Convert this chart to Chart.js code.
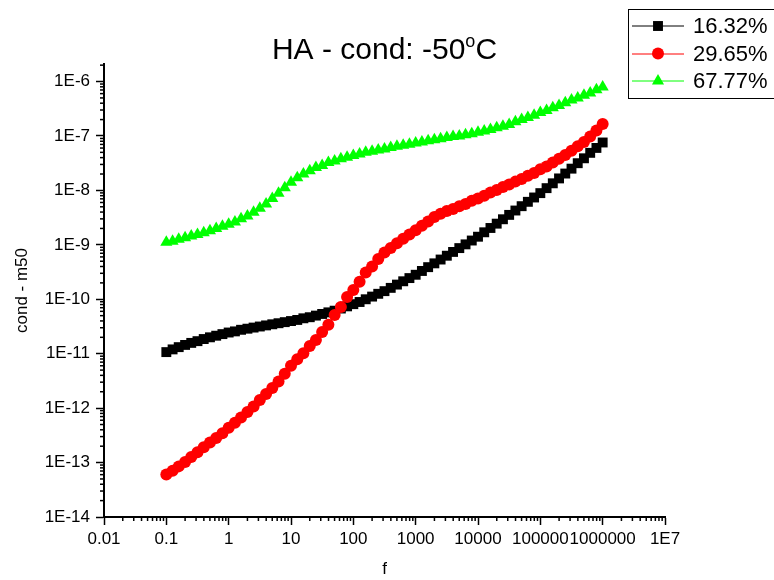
<!DOCTYPE html>
<html>
<head>
<meta charset="utf-8">
<script src="https://cdn.jsdelivr.net/npm/chart.js@4.4.1/dist/chart.umd.min.js"></script>
<style>
html, body { margin: 0; padding: 0; background: #fff; }
canvas { display: block; }
</style>
</head>
<body>
<canvas id="chart" width="774" height="580"></canvas>
<script>
// frequency points (10 per decade, 0.1 .. 1E6)
const freq = [
    0.1, 0.126, 0.158, 0.2, 0.251, 0.316, 0.398, 0.501, 0.631, 0.794,
    1, 1.26, 1.58, 2, 2.51, 3.16, 3.98, 5.01, 6.31, 7.94,
    10, 12.6, 15.8, 20, 25.1, 31.6, 39.8, 50.1, 63.1, 79.4,
    100, 126, 158, 200, 251, 316, 398, 501, 631, 794,
    1000, 1259, 1585, 1995, 2512, 3162, 3981, 5012, 6310, 7943,
    10000, 12589, 15849, 19953, 25119, 31623, 39811, 50119, 63096, 79433,
    100000, 125893, 158489, 199526, 251189, 316228, 398107, 501187, 630957, 794328,
    1000000
];

const cond1632 = [
    1.07e-11, 1.20e-11, 1.32e-11, 1.45e-11, 1.58e-11, 1.70e-11, 1.86e-11, 2.00e-11, 2.14e-11, 2.29e-11,
    2.45e-11, 2.57e-11, 2.75e-11, 2.88e-11, 3.02e-11, 3.16e-11, 3.31e-11, 3.47e-11, 3.63e-11, 3.80e-11,
    3.98e-11, 4.17e-11, 4.47e-11, 4.68e-11, 5.01e-11, 5.37e-11, 5.75e-11, 6.17e-11, 6.76e-11, 7.41e-11,
    8.13e-11, 8.91e-11, 1.00e-10, 1.12e-10, 1.26e-10, 1.41e-10, 1.62e-10, 1.86e-10, 2.14e-10, 2.45e-10,
    2.82e-10, 3.31e-10, 3.89e-10, 4.57e-10, 5.37e-10, 6.31e-10, 7.41e-10, 8.71e-10, 1.02e-9, 1.20e-9,
    1.41e-9, 1.70e-9, 2.04e-9, 2.45e-9, 2.95e-9, 3.55e-9, 4.27e-9, 5.13e-9, 6.17e-9, 7.41e-9,
    8.91e-9, 1.10e-8, 1.35e-8, 1.66e-8, 2.04e-8, 2.51e-8, 3.16e-8, 3.89e-8, 4.90e-8, 6.03e-8,
    7.59e-8
];

const cond2965 = [
    6.03e-14, 7.08e-14, 8.51e-14, 1.02e-13, 1.26e-13, 1.55e-13, 1.91e-13, 2.34e-13, 2.82e-13, 3.47e-13,
    4.37e-13, 5.37e-13, 6.76e-13, 8.51e-13, 1.07e-12, 1.41e-12, 1.82e-12, 2.34e-12, 3.09e-12, 4.27e-12,
    6.03e-12, 7.94e-12, 1.02e-11, 1.38e-11, 1.78e-11, 2.51e-11, 3.39e-11, 5.13e-11, 7.24e-11, 1.10e-10,
    1.48e-10, 2.09e-10, 3.09e-10, 3.98e-10, 5.50e-10, 7.24e-10, 8.71e-10, 1.07e-9, 1.29e-9, 1.55e-9,
    1.86e-9, 2.24e-9, 2.69e-9, 3.24e-9, 3.72e-9, 4.17e-9, 4.57e-9, 5.13e-9, 5.62e-9, 6.46e-9,
    7.08e-9, 7.94e-9, 9.12e-9, 1.02e-8, 1.15e-8, 1.29e-8, 1.45e-8, 1.62e-8, 1.86e-8, 2.09e-8,
    2.45e-8, 2.75e-8, 3.24e-8, 3.80e-8, 4.47e-8, 5.37e-8, 6.46e-8, 7.76e-8, 9.77e-8, 1.26e-7,
    1.66e-7
];

const cond6777 = [
    1.12e-9, 1.17e-9, 1.26e-9, 1.35e-9, 1.45e-9, 1.55e-9, 1.66e-9, 1.82e-9, 2.00e-9, 2.19e-9,
    2.40e-9, 2.63e-9, 3.02e-9, 3.39e-9, 3.98e-9, 4.68e-9, 5.62e-9, 7.08e-9, 8.91e-9, 1.12e-8,
    1.41e-8, 1.70e-8, 2.00e-8, 2.29e-8, 2.63e-8, 2.88e-8, 3.24e-8, 3.47e-8, 3.80e-8, 4.07e-8,
    4.37e-8, 4.68e-8, 5.01e-8, 5.25e-8, 5.50e-8, 5.75e-8, 6.17e-8, 6.46e-8, 6.76e-8, 7.08e-8,
    7.41e-8, 7.76e-8, 8.13e-8, 8.51e-8, 8.91e-8, 9.33e-8, 9.77e-8, 1.00e-7, 1.05e-7, 1.10e-7,
    1.17e-7, 1.23e-7, 1.32e-7, 1.41e-7, 1.51e-7, 1.62e-7, 1.82e-7, 2.00e-7, 2.19e-7, 2.40e-7,
    2.69e-7, 2.95e-7, 3.31e-7, 3.63e-7, 4.07e-7, 4.57e-7, 5.01e-7, 5.62e-7, 6.17e-7, 7.08e-7,
    7.94e-7
];

const seriesNames = ['16.32%', '29.65%', '67.77%'];

const xTickValues = [0.01, 0.1, 1, 10, 100, 1000, 10000, 100000, 1000000, 10000000];
const xTickLabels = ['0.01', '0.1', '1', '10', '100', '1000', '10000', '100000', '1000000', '1E7'];
const yTickValues = [1e-14, 1e-13, 1e-12, 1e-11, 1e-10, 1e-9, 1e-8, 1e-7, 1e-6];
const yTickLabels = ['1E-14', '1E-13', '1E-12', '1E-11', '1E-10', '1E-9', '1E-8', '1E-7', '1E-6'];

const titleParts = ['HA - cond: -50', 'o', 'C'];
const minorSteps = [2, 3, 4, 5, 6, 7, 8, 9];

const FONT = '"Liberation Sans", Arial, sans-serif';

function toPoints(values) {
    return freq.map((f, i) => ({x: f, y: values[i]}));
}

// small ticks between the decades, outside the axes like origin does
const minorTicks = {
    id: 'minorTicks',
    afterDraw(chart) {
        const ctx = chart.ctx;
        ctx.save();
        ctx.strokeStyle = '#000';
        ctx.lineWidth = 1.5;
        ['x', 'y'].forEach(id => {
            const s = chart.scales[id];
            const lo = Math.floor(Math.log10(s.min));
            const hi = Math.ceil(Math.log10(s.max));
            for (let d = lo; d < hi; d++) {
                minorSteps.forEach(m => {
                    const v = m * Math.pow(10, d);
                    if (v < s.min || v > s.max * 1.0001) return;
                    const p = s.getPixelForValue(v);
                    ctx.beginPath();
                    if (id === 'x') {
                        ctx.moveTo(p, s.top);
                        ctx.lineTo(p, s.top + 4);
                    } else {
                        ctx.moveTo(s.right, p);
                        ctx.lineTo(s.right - 4, p);
                    }
                    ctx.stroke();
                });
            }
        });
        ctx.restore();
    }
};

// title with the raised "o"
const supTitle = {
    id: 'supTitle',
    afterDraw(chart) {
        const ctx = chart.ctx;
        const area = chart.chartArea;
        const big = '30px ' + FONT;
        const small = '18px ' + FONT;
        ctx.save();
        ctx.fillStyle = '#000';
        ctx.textBaseline = 'alphabetic';
        ctx.font = big;
        const w1 = ctx.measureText(titleParts[0]).width;
        const w3 = ctx.measureText(titleParts[2]).width;
        ctx.font = small;
        const w2 = ctx.measureText(titleParts[1]).width;
        let x = (area.left + area.right) / 2 - (w1 + w2 + w3) / 2;
        const y = 59;
        ctx.font = big;
        ctx.fillText(titleParts[0], x, y);
        x += w1;
        ctx.font = small;
        ctx.fillText(titleParts[1], x, y - 12);
        x += w2;
        ctx.font = big;
        ctx.fillText(titleParts[2], x, y);
        ctx.restore();
    }
};

// boxed legend: line + marker + label
const boxLegend = {
    id: 'boxLegend',
    afterDraw(chart) {
        const ctx = chart.ctx;
        ctx.save();
        ctx.fillStyle = '#fff';
        ctx.fillRect(628, 9, 150, 90);
        ctx.strokeStyle = '#000';
        ctx.lineWidth = 1;
        ctx.strokeRect(628.5, 9.5, 150, 89);
        const rows = [26, 53.5, 81];
        chart.data.datasets.forEach((ds, i) => {
            const y = rows[i];
            ctx.strokeStyle = ds.borderColor;
            ctx.lineWidth = 1;
            ctx.beginPath();
            ctx.moveTo(632, Math.round(y));
            ctx.lineTo(684, Math.round(y));
            ctx.stroke();
            ctx.fillStyle = ds.pointBackgroundColor;
            Chart.helpers.drawPoint(ctx, {
                pointStyle: ds.pointStyle,
                radius: ds.pointRadius,
                borderWidth: 0,
                rotation: 0
            }, 658, y);
            ctx.fillStyle = '#000';
            ctx.font = '22px ' + FONT;
            ctx.textBaseline = 'middle';
            ctx.textAlign = 'left';
            ctx.fillText(ds.label, 693, y + 1);
        });
        ctx.restore();
    }
};

const axisStyle = {
    grid: {
        drawOnChartArea: false,
        drawTicks: true,
        tickLength: 8,
        tickWidth: 1.5,
        tickColor: '#000'
    },
    border: {display: true, color: '#000', width: 2}
};

new Chart(document.getElementById('chart'), {
    type: 'scatter',
    data: {
        datasets: [
            {
                label: seriesNames[0],
                data: toPoints(cond1632),
                showLine: true,
                borderColor: '#000',
                borderWidth: 1,
                pointStyle: 'rect',
                pointRadius: 7,
                pointBorderWidth: 0,
                pointBackgroundColor: '#000',
                order: 1
            },
            {
                label: seriesNames[1],
                data: toPoints(cond2965),
                showLine: true,
                borderColor: '#ff0000',
                borderWidth: 1,
                pointStyle: 'circle',
                pointRadius: 6,
                pointBorderWidth: 0,
                pointBackgroundColor: '#ff0000',
                order: 0
            },
            {
                label: seriesNames[2],
                data: toPoints(cond6777),
                showLine: true,
                borderColor: '#00ff00',
                borderWidth: 1,
                pointStyle: 'triangle',
                pointRadius: 7,
                pointBorderWidth: 0,
                pointBackgroundColor: '#00ff00',
                order: 2
            }
        ]
    },
    options: {
        responsive: false,
        animation: false,
        devicePixelRatio: 1,
        layout: {padding: {top: 64, right: 109, bottom: 0, left: 0}},
        plugins: {
            legend: {display: false},
            title: {display: false},
            tooltip: {enabled: false}
        },
        scales: {
            x: {
                type: 'logarithmic',
                position: 'bottom',
                min: 0.01,
                max: 1e7,
                bounds: 'data',
                afterBuildTicks: s => { s.ticks = xTickValues.map(v => ({value: v})); },
                afterFit: s => { s.height = 63; },
                ticks: {
                    autoSkip: false,
                    maxRotation: 0,
                    minRotation: 0,
                    padding: 4,
                    color: '#000',
                    font: {family: FONT, size: 17},
                    callback: (v, i) => xTickLabels[i]
                },
                grid: axisStyle.grid,
                border: axisStyle.border,
                title: {
                    display: true,
                    text: 'f',
                    color: '#000',
                    font: {family: FONT, size: 17},
                    padding: {top: 0, bottom: 0}
                }
            },
            y: {
                type: 'logarithmic',
                position: 'left',
                min: 1e-14,
                max: 2.1e-6,
                bounds: 'data',
                afterBuildTicks: s => { s.ticks = yTickValues.map(v => ({value: v})); },
                afterFit: s => { s.width = 104; },
                ticks: {
                    autoSkip: false,
                    padding: 6,
                    color: '#000',
                    font: {family: FONT, size: 17},
                    callback: (v, i) => yTickLabels[i]
                },
                grid: axisStyle.grid,
                border: axisStyle.border,
                title: {
                    display: true,
                    text: 'cond - m50',
                    color: '#000',
                    font: {family: FONT, size: 17},
                    padding: {top: 12, bottom: 0}
                }
            }
        }
    },
    plugins: [minorTicks, supTitle, boxLegend]
});
</script>
</body>
</html>
